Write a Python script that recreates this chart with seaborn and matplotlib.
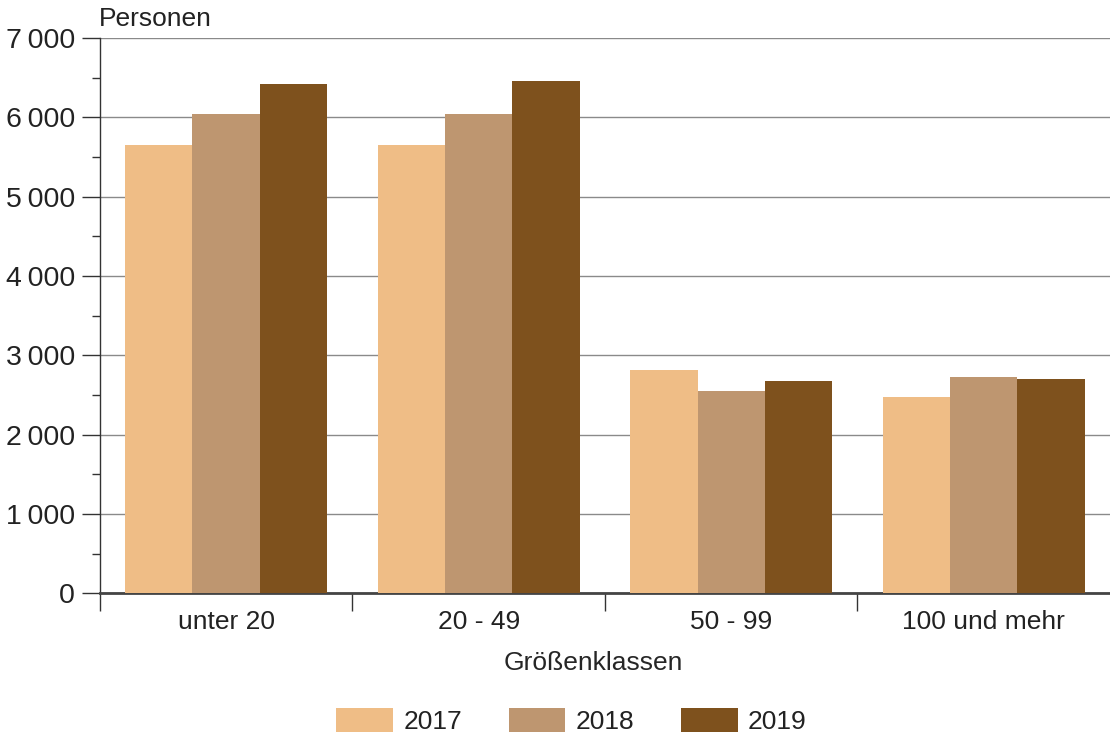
import pandas as pd
import matplotlib.pyplot as plt
import seaborn as sns
from matplotlib.ticker import FuncFormatter, MultipleLocator, FixedLocator

# values
klassen = ['unter 20', '20 - 49', '50 - 99', '100 und mehr']
jahre = ['2017', '2018', '2019']
werte_2017 = [5650, 5650, 2810, 2480]
werte_2018 = [6050, 6040, 2545, 2725]
werte_2019 = [6420, 6460, 2670, 2695]
farben = ['#EFBD86', '#BE9670', '#7E511D']

df = pd.DataFrame({
    'klasse': klassen * 3,
    'jahr': [j for j in jahre for _ in klassen],
    'personen': werte_2017 + werte_2018 + werte_2019,
})

sns.set_theme(style='white')
plt.rcParams['font.family'] = ['Liberation Sans', 'DejaVu Sans']
plt.rcParams['text.color'] = '#222222'

fig = plt.figure(figsize=(11.1, 7.35), dpi=100)
ax = fig.add_axes([0.090, 0.193, 0.910, 0.755])

sns.barplot(data=df, x='klasse', y='personen', hue='jahr', palette=farben,
            width=0.8, saturation=1, linewidth=0, ax=ax, zorder=3)

ax.set_ylim(0, 7000)
ax.set_xlim(-0.5, 3.5)
ax.yaxis.set_major_locator(MultipleLocator(1000))
ax.yaxis.set_minor_locator(MultipleLocator(500))
ax.yaxis.set_major_formatter(FuncFormatter(lambda v, p: f'{int(v):,}'.replace(',', '\u2009')))
ax.grid(axis='y', color='#8a8a8a', linewidth=1, zorder=0)
ax.set_axisbelow(True)

ax.xaxis.set_minor_locator(FixedLocator([-0.5, 0.5, 1.5, 2.5]))
ax.tick_params(axis='x', which='major', length=0, pad=12, labelsize=19, colors='#222222')
ax.tick_params(axis='x', which='minor', length=13, width=1, color='#333333', direction='out', bottom=True)
ax.tick_params(axis='y', which='major', length=13, width=1, color='#333333', pad=5, labelsize=20.5,
               left=True, labelcolor='#222222')
ax.tick_params(axis='y', which='minor', length=6, width=1, color='#333333', left=True)

for s in ['top', 'right']:
    ax.spines[s].set_visible(False)
ax.spines['left'].set_color('#333333')
ax.spines['left'].set_linewidth(1)
ax.spines['bottom'].set_color('#444444')
ax.spines['bottom'].set_linewidth(2)

ax.set_ylabel('')
ax.set_xlabel('Größenklassen', fontsize=19, labelpad=14)
ax.xaxis.set_label_coords(0.488, -0.105)
fig.text(0.089, 0.958, 'Personen', fontsize=19, ha='left', va='bottom')

ax.legend_.remove()
handles, labels = ax.get_legend_handles_labels()
fig.legend(handles, labels, loc='center', bbox_to_anchor=(0.515, 0.019), ncol=3,
           frameon=False, fontsize=19, handlelength=2.15, handleheight=1.0,
           handletextpad=0.4, columnspacing=1.75)

fig.savefig('out.png', dpi=100)
